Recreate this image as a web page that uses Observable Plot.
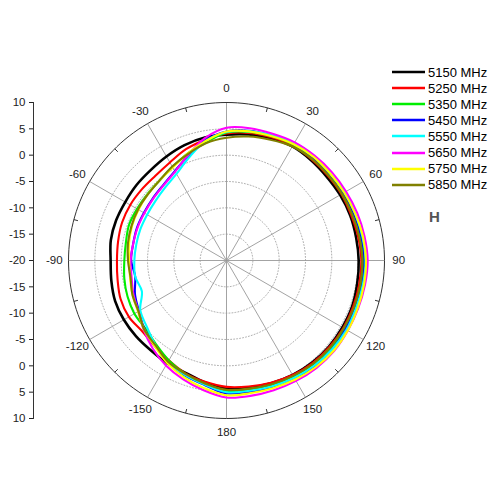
<!DOCTYPE html>
<html><head><meta charset="utf-8">
<script src="https://cdn.jsdelivr.net/npm/d3@7"></script>
<script src="https://cdn.jsdelivr.net/npm/@observablehq/plot@0.6"></script>
<style>
body{margin:0;background:#fff;font-family:"Liberation Sans",Arial,sans-serif;}
#wrap{position:relative;width:500px;height:500px;}
#legend{position:absolute;left:392px;top:64px;font-size:13px;color:#000;}
#legend .row{display:flex;align-items:center;height:16.1px;}
#legend svg{margin-right:3px;}
#tag{position:absolute;left:429px;top:208px;font-size:15px;font-weight:bold;color:#555;}
</style></head><body>
<div id="wrap"><div id="legend"></div><div id="tag">H</div></div>
<script>
const angles = [-180,-170,-160,-150,-140,-130,-120,-110,-100,-90,-80,-70,-60,-50,-40,-30,-20,-10,0,10,20,30,40,50,60,70,80,90,100,110,120,130,140,150,160,170];
const freqs = ["5150 MHz","5250 MHz","5350 MHz","5450 MHz","5550 MHz","5650 MHz","5750 MHz","5850 MHz"];
const colors = ["#000000","#ff0000","#00ee00","#0000ff","#00ffff","#ff00ff","#ffff00","#808000"];
const s5150 = [4.3,3.5,2.7,2.5,2.3,2.4,2.5,2.5,2.2,2.0,2.3,2.3,2.2,2.3,2.4,2.8,3.3,3.7,3.9,4.3,4.7,5.0,4.9,4.8,4.9,5.0,5.0,5.1,5.2,5.4,5.4,5.4,5.3,5.1,4.8,4.5];
const s5250 = [4.0,3.4,2.8,1.9,1.2,0.9,1.4,1.4,1.0,0.8,0.9,1.1,1.1,1.0,1.0,1.5,2.5,3.3,4.1,4.6,4.9,5.2,5.1,5.1,5.2,5.2,5.4,5.6,5.6,5.6,5.6,5.5,5.4,5.1,4.7,4.3];
const s5350 = [4.7,3.7,2.9,1.9,0.8,0.1,0.2,0.0,-0.3,-0.6,-0.6,-0.3,-0.4,-0.4,-0.2,0.5,1.6,2.7,4.3,4.8,5.1,5.4,5.5,5.4,5.5,5.6,5.8,6.0,6.0,6.0,5.9,5.9,5.7,5.4,5.1,4.8];
const s5450 = [5.2,4.0,3.2,2.3,1.1,0.3,-0.8,-1.5,-2.4,-1.9,-2.0,-1.9,-1.9,-1.7,-1.3,-0.4,1.2,3.2,4.5,5.0,5.2,5.6,5.6,5.6,5.7,5.8,6.0,6.2,6.2,6.1,6.1,6.2,6.1,5.9,5.6,5.3];
const s5550 = [5.0,3.9,3.1,2.3,1.0,-0.3,-1.1,-2.9,-2.4,-2.5,-2.6,-2.6,-2.6,-2.4,-1.9,-1.0,0.8,3.0,4.4,4.9,5.3,5.8,5.8,5.7,5.9,6.0,6.2,6.4,6.3,6.2,6.3,6.2,6.0,5.7,5.4,5.1];
const s5650 = [6.0,5.0,4.0,3.0,1.8,0.5,-0.7,-1.2,-1.7,-1.8,-2.0,-2.0,-2.0,-1.8,-1.4,-0.5,1.3,3.6,5.2,5.5,5.6,5.9,6.0,6.1,6.2,6.4,6.6,6.8,6.7,6.6,6.6,6.7,6.6,6.4,6.2,6.1];
const s5750 = [5.6,4.6,3.6,2.5,1.2,0.4,-0.6,-1.0,-1.4,-1.5,-1.2,-0.9,-0.7,-0.5,-0.2,0.4,1.6,3.0,4.5,4.9,5.1,5.5,5.7,5.7,5.8,6.0,6.3,6.5,6.5,6.5,6.6,6.6,6.4,6.1,5.8,5.6];
const s5850 = [4.55,3.7,2.9,2.2,1.0,0.4,-0.7,-1.0,-1.5,-1.3,-1.0,-0.8,-0.6,-0.5,-0.2,0.6,1.5,2.6,3.3,3.9,4.4,5.0,5.2,5.2,5.3,5.4,5.6,5.8,5.8,5.8,5.7,5.7,5.6,5.3,5.0,4.7];
const seriesValues = [s5150,s5250,s5350,s5450,s5550,s5650,s5750,s5850];
const rMin = -20, rMax = 10;
const ringLevels = [-15,-10,-5,0,5];
const spokeAngles = [0,30,60,90,120,150,180,210,240,270,300,330];
const minorTickAngles = [15,45,75,105,135,165,195,225,255,285,315,345];
const angleLabels = [0,30,60,90,120,150,180,-150,-120,-90,-60,-30];
const axisTickPositions = [30,25,20,15,10,5,0,-5,-10,-15,-20,-25,-30];

const span = rMax - rMin;
const rad = a => a * Math.PI / 180;
const px = (a, db) => (db - rMin) * Math.sin(rad(a));
const py = (a, db) => (db - rMin) * Math.cos(rad(a));

const rows = [];
seriesValues.forEach((vals, i) => vals.forEach((db, j) => rows.push({series: freqs[i], angle: angles[j], db})));

const circlePts = d3.range(0, 361, 2);
const ringRows = ringLevels.flatMap(level => circlePts.map(a => ({level, a})));
const labelR = rMin + 32.7;

const chart = Plot.plot({
  width: 500, height: 500,
  marginLeft: 68, marginRight: 116, marginTop: 102, marginBottom: 82,
  x: {domain: [-span, span], axis: null},
  y: {domain: [-span, span]},
  color: {domain: freqs, range: colors},
  style: {fontFamily: "Liberation Sans, Arial, sans-serif", fontSize: "11.5px", color: "#222", background: "#fff", overflow: "visible"},
  marks: [
    Plot.line(ringRows, {x: d => px(d.a, d.level), y: d => py(d.a, d.level), z: "level", stroke: "#9a9a9a", strokeWidth: 0.8, strokeDasharray: "1,2"}),
    Plot.link(spokeAngles, {x1: 0, y1: 0, x2: a => px(a, rMax), y2: a => py(a, rMax), stroke: "#999", strokeWidth: 0.9}),
    Plot.line(circlePts, {x: a => px(a, rMax), y: a => py(a, rMax), stroke: "#333", strokeWidth: 1}),
    Plot.link(minorTickAngles, {x1: a => px(a, rMax), y1: a => py(a, rMax), x2: a => px(a, rMax - 0.8), y2: a => py(a, rMax - 0.8), stroke: "#333", strokeWidth: 1}),
    Plot.text(angleLabels, {x: a => px(a, labelR), y: a => py(a, labelR), text: d => String(d), fill: "#222", fontSize: 11.5}),
    Plot.frame({anchor: "left", dx: -35, stroke: "#333"}),
    Plot.axisY({anchor: "left", ticks: axisTickPositions, tickFormat: d => Math.abs(d) + rMin, dx: -35, tickSize: 4, tickPadding: 4, fontSize: 11.5, color: "#222"}),
    Plot.line(rows, {x: d => px(d.angle, d.db), y: d => py(d.angle, d.db), z: "series", stroke: "series", strokeWidth: d => d.series === freqs[0] ? 2.6 : 2.1, curve: "catmull-rom-closed"})
  ]
});
document.getElementById("wrap").prepend(chart);

const legend = document.getElementById("legend");
freqs.forEach((f, i) => {
  const row = document.createElement("div");
  row.className = "row";
  row.innerHTML = `<svg width="33" height="6"><line x1="0" x2="33" y1="3" y2="3" stroke="${colors[i]}" stroke-width="2.6"/></svg><span>${f}</span>`;
  legend.appendChild(row);
});
</script>
</body></html>
